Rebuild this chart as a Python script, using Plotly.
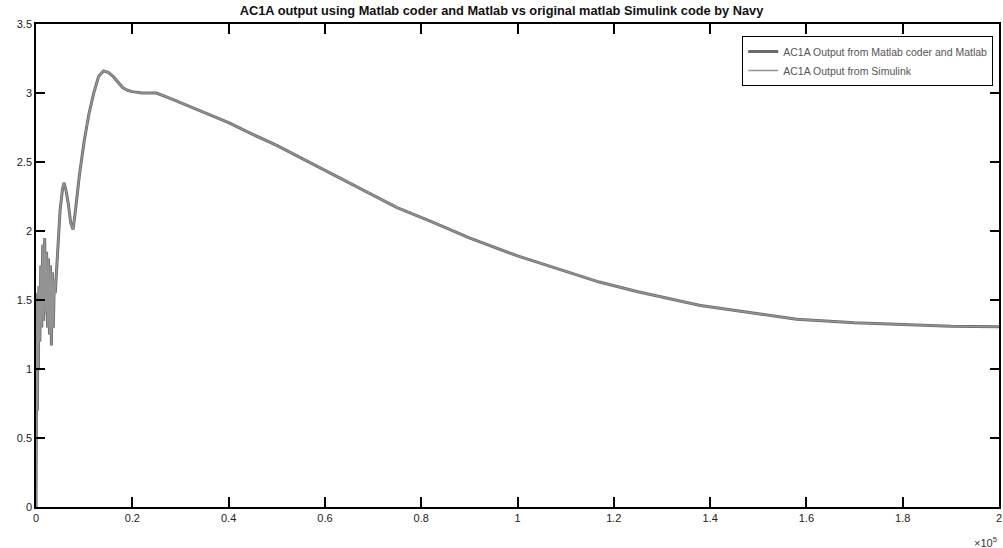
import plotly.graph_objects as go

# x in units of 1e5
x_vals = [0.000, 0.001, 0.002, 0.003, 0.004, 0.005, 0.006, 0.008, 0.010, 0.012,
          0.014, 0.016, 0.018, 0.020, 0.022, 0.024, 0.026, 0.028, 0.030, 0.032,
          0.034, 0.036, 0.038, 0.040, 0.045, 0.050, 0.055, 0.058, 0.062, 0.067,
          0.072, 0.077, 0.082, 0.090, 0.100, 0.110, 0.120, 0.130, 0.140, 0.150,
          0.160, 0.170, 0.180, 0.190, 0.200, 0.220, 0.250, 0.280, 0.300, 0.350,
          0.400, 0.450, 0.500, 0.550, 0.600, 0.680, 0.750, 0.820, 0.900, 1.000,
          1.100, 1.170, 1.250, 1.380, 1.500, 1.580, 1.700, 1.800, 1.900, 2.000]
y_coder = [0.00, 0.60, 1.55, 0.70, 1.50, 1.00, 1.60, 1.20, 1.75, 1.30,
           1.90, 1.35, 1.95, 1.40, 1.85, 1.30, 1.80, 1.25, 1.75, 1.17,
           1.70, 1.30, 1.65, 1.55, 1.85, 2.15, 2.30, 2.35, 2.30, 2.20,
           2.06, 2.01, 2.15, 2.40, 2.65, 2.85, 3.00, 3.12, 3.16, 3.15,
           3.12, 3.08, 3.04, 3.02, 3.01, 3.00, 3.00, 2.96, 2.93, 2.86,
           2.785, 2.70, 2.62, 2.53, 2.44, 2.29, 2.17, 2.07, 1.95, 1.82,
           1.71, 1.63, 1.56, 1.46, 1.40, 1.36, 1.335, 1.32, 1.31, 1.307]
y_simulink = list(y_coder)

x_ticks = [0, 0.2, 0.4, 0.6, 0.8, 1, 1.2, 1.4, 1.6, 1.8, 2]
x_ticktext = ["0", "0.2", "0.4", "0.6", "0.8", "1", "1.2", "1.4", "1.6", "1.8", "2"]
y_ticks = [0, 0.5, 1, 1.5, 2, 2.5, 3, 3.5]
y_ticktext = ["0", "0.5", "1", "1.5", "2", "2.5", "3", "3.5"]

fig = go.Figure()
fig.add_trace(go.Scatter(x=x_vals, y=y_coder, mode="lines",
                         name="AC1A Output from Matlab coder and Matlab",
                         line=dict(color="#6a6a6a", width=3)))
fig.add_trace(go.Scatter(x=x_vals, y=y_simulink, mode="lines",
                         name="AC1A Output from Simulink",
                         line=dict(color="#939393", width=1.5)))

axis_common = dict(showgrid=False, zeroline=False, showline=True, linecolor="black",
                   linewidth=1.5, mirror="ticks", ticks="inside", tickcolor="black",
                   tickwidth=1.5, tickfont=dict(family="Liberation Sans, Arial", size=11, color="#222"))

fig.update_layout(
    width=1003, height=548,
    margin=dict(l=36, r=2, t=24, b=41),
    paper_bgcolor="white", plot_bgcolor="white",
    title=dict(text="<b>AC1A output using Matlab coder and Matlab vs original matlab Simulink code by Navy</b>",
               x=0.5, xanchor="center", y=0.98, yanchor="middle",
               font=dict(family="Liberation Sans, Arial", size=12.8, color="#111")),
    xaxis=dict(range=[0, 2], tickvals=x_ticks, ticktext=x_ticktext, ticklen=10, **axis_common),
    yaxis=dict(range=[0, 3.5], tickvals=y_ticks, ticktext=y_ticktext, ticklen=9, **axis_common),
    legend=dict(x=0.994, y=0.975, xanchor="right", yanchor="top",
                bgcolor="white", bordercolor="black", borderwidth=1,
                font=dict(family="Liberation Sans, Arial", size=10.5, color="#555"),
                tracegroupgap=0, itemwidth=30),
    showlegend=True,
    annotations=[dict(text="×10<sup>5</sup>", xref="paper", yref="paper",
                      x=1.0, y=0, xanchor="right", yanchor="top", yshift=-26,
                      showarrow=False,
                      font=dict(family="Liberation Sans, Arial", size=11, color="#333"))],
)

fig.write_html("out.html")
